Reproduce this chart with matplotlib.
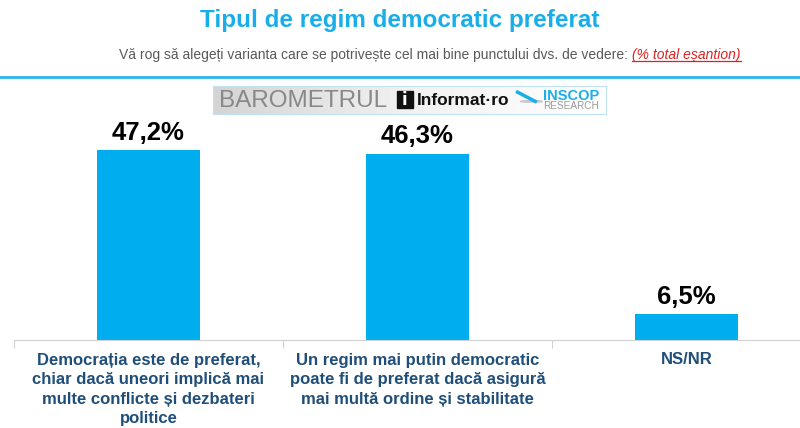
import numpy as np
import matplotlib.pyplot as plt
from matplotlib.patches import Rectangle, Circle
from matplotlib.lines import Line2D

# date
categorii = [
    "Democrația este de preferat,\nchiar dacă uneori implică mai\nmulte conflicte și dezbateri\npolitice",
    "Un regim mai putin democratic\npoate fi de preferat dacă asigură\nmai multă ordine și stabilitate",
    "NS/NR",
]
valori = [47.2, 46.3, 6.5]
etichete = ["47,2%", "46,3%", "6,5%"]

titlu = "Tipul de regim democratic preferat"
subtitlu = "Vă rog să alegeți varianta care se potrivește cel mai bine punctului dvs. de vedere: "
nota = "(% total eșantion)"

ALBASTRU = "#00AEEF"
TEXT_ALB = "#1F4E79"
SANS = ["Liberation Sans", "DejaVu Sans"]

W, H = 800, 428
fig = plt.figure(figsize=(W / 100, H / 100), dpi=100)

def fx(px):
    return px / W

def fy(py):
    return 1 - py / H

# titlu si subtitlu
fig.text(0.5, fy(21), titlu, ha="center", va="center", color="#1AAEE8",
         fontsize=17.5, fontweight="bold", family=SANS)
split = fx(632)
fig.text(split, fy(55), subtitlu, ha="right", va="center", color="#595959",
         fontsize=10, family=SANS)
t_nota = fig.text(split, fy(55), nota, ha="left", va="center", color="#E02020",
                  fontsize=10, style="italic", family=SANS)

# linia albastra
fig.add_artist(Line2D([0, 1], [fy(77), fy(77)], color="#29B5E8", lw=2))

# logo
lax = fig.add_axes([fx(213), fy(114), fx(606 - 213), (114 - 86) / H])
grad = np.linspace(0, 1, 256).reshape(1, -1)
lax.imshow(grad, aspect="auto", cmap=plt.cm.colors.LinearSegmentedColormap.from_list(
    "g", ["#d4d4d4", "#f2f2f2", "#ffffff"]), extent=[0, 1, 0, 1])
lax.set_xlim(0, 1)
lax.set_ylim(0, 1)
lax.set_xticks([])
lax.set_yticks([])
for s in lax.spines.values():
    s.set_color("#bfe3f3")
lax.text(0.015, 0.48, "BAROMETRUL", ha="left", va="center", color="#888888",
         fontsize=17.5, family=SANS)
lax.add_patch(Rectangle((0.467, 0.2), 0.042, 0.62, color="#111111"))
lax.text(0.488, 0.5, "i", ha="center", va="center", color="white", fontsize=12,
         fontweight="bold")
lax.text(0.518, 0.47, "Informat·ro", ha="left", va="center", color="#111111",
         fontsize=12.5, fontweight="bold", family=SANS)
lax.add_patch(Circle((0.81, 0.45), 0.028, transform=lax.transAxes, color="#c8c8c8"))
lax.plot([0.775, 0.82], [0.78, 0.45], color="#1AAEE8", lw=2.5)
lax.text(0.84, 0.66, "INSCOP", ha="left", va="center", color="#1AAEE8",
         fontsize=10.5, fontweight="bold", family=SANS)
lax.text(0.84, 0.27, "RESEARCH", ha="left", va="center", color="#9a9a9a",
         fontsize=7.2, family=SANS)

# grafic
ax = fig.add_axes([fx(14), (H - 340) / H, fx(800 - 14), 220 / H])
x = np.arange(len(valori))
ax.bar(x, valori, width=0.385, color=ALBASTRU)
ax.set_xlim(-0.5, -0.5 + 786 / 269)
ax.set_ylim(0, 220 / 4.025)
for xi, v, e in zip(x, valori, etichete):
    ax.text(xi, v + 1.3, e, ha="center", va="bottom", fontsize=18.5,
            fontweight="bold", color="black", family=SANS)

for s in ["top", "right", "left"]:
    ax.spines[s].set_visible(False)
ax.spines["bottom"].set_color("#d0d0d0")
ax.set_yticks([])
ax.set_xticks([-0.5, 0.5, 1.5])
ax.set_xticklabels([])
ax.tick_params(axis="x", which="major", length=6, color="#d0d0d0")
ax.set_xticks(x, minor=True)
ax.set_xticklabels(categorii, minor=True, fontsize=12, fontweight="bold",
                   color=TEXT_ALB, family=SANS, linespacing=1.38)
ax.tick_params(axis="x", which="minor", length=0, pad=9)

# subliniere nota
fig.canvas.draw()
bb = t_nota.get_window_extent()
fig.add_artist(Line2D([bb.x0 / W, bb.x1 / W], [(bb.y0 + 1) / H, (bb.y0 + 1) / H],
                      color="#E02020", lw=0.9))

fig.savefig("out.png", dpi=100)
